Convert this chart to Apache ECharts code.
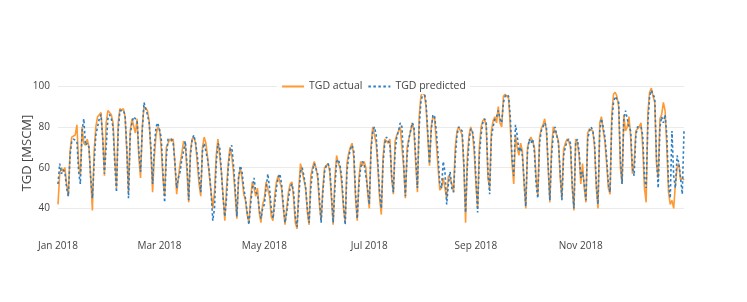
<!DOCTYPE html>
<html>
<head>
<meta charset="utf-8">
<script src="https://cdn.jsdelivr.net/npm/echarts@6/dist/echarts.min.js"></script>
<style>
html,body{margin:0;padding:0;background:#fff;}
#chart{width:747px;height:302px;}
</style>
</head>
<body>
<div id="chart"></div>
<script>
// Daily values for 2018 (Jan 1 .. Dec 31), one row per week (Mon..Sun)
const actual = [
 42,57,60,58,60,52,46,
 68,75,75,76,81,62,56,
 80,72,71,74,70,55,39,
 68,80,85,86,87,75,56,
 82,88,88,86,82,65,50,
 82,89,88,89,85,68,48,
 78,84,84,77,84,65,55,
 80,90,89,88,83,68,48,
 65,76,80,79,70,55,46,
 70,72,74,73,74,62,47,
 55,62,67,73,72,58,43,
 68,74,75,72,62,52,46,
 70,75,72,65,56,48,40,
 48,66,74,66,58,46,34,
 50,62,70,66,58,47,35,
 55,60,55,47,44,37,33,
 45,53,50,46,50,38,33,
 42,45,53,53,46,36,34,
 46,53,56,56,50,40,32,
 40,48,52,53,45,33,30,
 50,62,58,54,50,38,32,
 56,60,63,60,55,42,34,
 50,60,60,62,58,45,32,
 55,66,62,60,52,40,33,
 62,67,70,72,65,45,34,
 55,63,61,63,60,48,40,
 70,80,80,72,60,45,37,
 65,74,74,72,74,55,47,
 73,76,78,80,80,60,45,
 70,74,78,82,78,62,48,
 85,95,97,96,90,75,61,
 80,85,84,72,60,49,50,
 55,50,45,56,55,52,48,
 70,78,80,80,76,60,33,
 65,76,80,77,68,52,40,
 70,80,83,84,80,55,50,
 78,83,85,82,90,82,80,
 95,96,96,94,80,62,52,
 76,70,66,72,68,52,40,
 70,73,75,73,70,55,46,
 75,79,81,84,78,60,43,
 70,80,80,76,73,55,45,
 69,72,74,73,70,50,39,
 74,72,66,52,62,50,43,
 77,79,79,78,70,50,40,
 82,85,78,73,62,50,47,
 86,96,97,95,90,60,52,
 86,78,80,85,75,57,62,
 78,79,80,82,70,50,43,
 87,97,99,95,92,62,55,
 84,86,92,88,70,48,42,
 44,40,52,60,62,54,55,
 54
];
const predicted = [
 52,62,57,59,58,50,46,
 66,73,74,74,73,58,52,
 78,84,71,72,70,55,45,
 62,76,80,84,86,74,57,
 70,84,86,84,80,62,48,
 78,88,88,88,86,70,45,
 76,82,85,84,83,68,58,
 78,92,89,86,82,70,52,
 70,80,82,82,75,58,43,
 65,74,74,74,72,62,50,
 55,58,64,68,73,62,44,
 66,74,76,72,66,56,48,
 68,72,68,64,58,48,34,
 40,62,72,70,58,45,36,
 45,60,68,71,62,50,36,
 55,61,58,50,45,38,32,
 42,50,55,48,47,40,35,
 40,42,50,57,50,40,35,
 42,50,55,57,52,42,33,
 38,45,50,52,48,36,31,
 45,58,60,56,50,40,33,
 50,58,62,62,57,45,33,
 48,58,61,62,60,47,33,
 50,63,64,61,55,42,32,
 58,65,69,71,68,48,35,
 52,60,63,62,62,50,42,
 68,78,80,76,62,48,40,
 62,72,75,73,72,56,48,
 68,75,78,82,80,62,46,
 66,74,78,82,80,65,50,
 80,92,96,97,92,78,62,
 78,86,85,78,66,52,50,
 63,58,42,52,58,50,48,
 65,76,80,80,78,62,38,
 60,73,79,78,72,55,38,
 66,76,82,84,82,58,47,
 75,80,84,85,88,84,82,
 92,95,96,95,85,65,56,
 81,76,68,70,66,54,41,
 68,74,72,74,68,52,45,
 72,78,80,82,80,62,44,
 66,76,80,80,72,58,44,
 66,70,73,74,72,52,40,
 72,74,68,55,58,52,44,
 74,78,80,78,72,52,42,
 78,84,80,75,65,52,48,
 82,92,95,95,92,65,52,
 84,88,84,80,78,60,56,
 76,80,80,80,76,55,50,
 82,95,98,96,94,65,50,
 80,85,82,86,76,52,45,
 78,56,50,66,62,55,47,
 78
];
const yTicks = [40, 60, 80, 100];
const xTickDates = ['2018-01-01','2018-03-01','2018-05-01','2018-07-01','2018-09-01','2018-11-01'];
const monthNames = ['Jan','Feb','Mar','Apr','May','Jun','Jul','Aug','Sep','Oct','Nov','Dec'];
const yTitle = 'TGD [MSCM]';

const DAY = 86400000;
const t0 = Date.UTC(2018, 0, 1);
const dayIndex = s => Math.round((Date.parse(s + 'T00:00:00Z') - t0) / DAY);
const dayLabel = i => { const d = new Date(t0 + i * DAY); return monthNames[d.getUTCMonth()] + ' ' + d.getUTCFullYear(); };

const chart = echarts.init(document.getElementById('chart'), null, {renderer:'canvas'});
const font = '"Open Sans", sans-serif';
chart.setOption({
  animation: false,
  backgroundColor: '#fff',
  grid: {left: 58, right: 63, top: 80, bottom: 65},
  graphic: [{
    type: 'text', x: 27, y: 153, rotation: Math.PI / 2, z: 10,
    style: {text: yTitle, fontFamily: font, fontSize: 13, fill: '#444', align: 'center', verticalAlign: 'middle'}
  }],
  legend: {
    data: ['TGD actual', 'TGD predicted'],
    top: 79, left: 'center', z: 10,
    itemWidth: 22, itemHeight: 10, itemGap: 5,
    itemStyle: {opacity: 0},
    backgroundColor: '#fff', padding: [2, 4],
    textStyle: {fontFamily: font, fontSize: 10.5, color: '#444'}
  },
  xAxis: {
    type: 'value',
    min: 0, max: actual.length - 1,
    axisLine: {show: false}, axisTick: {show: false}, splitLine: {show: false},
    axisLabel: {
      customValues: xTickDates.map(dayIndex),
      formatter: v => dayLabel(v),
      fontFamily: font, fontSize: 10, color: '#444', margin: 4
    }
  },
  yAxis: {
    type: 'value', min: 26, max: 103,
    axisLine: {show: false}, axisTick: {show: false}, splitLine: {show: false},
    axisLabel: {customValues: yTicks, fontFamily: font, fontSize: 10, color: '#444', margin: 8}
  },
  series: [
    {
      name: 'grid', type: 'line', data: [], z: 1, silent: true,
      markLine: {z: 1, silent: true, symbol: 'none', label: {show: false},
        lineStyle: {color: '#ebebeb', width: 1, type: 'solid'},
        data: yTicks.map(v => ({yAxis: v}))}
    },
    {
      name: 'TGD actual', type: 'line', showSymbol: false, symbol: 'none',
      data: actual.map((v, i) => [i, v]),
      lineStyle: {color: '#ff9933', width: 1.6}, itemStyle: {color: '#ff9933'}, z: 2
    },
    {
      name: 'TGD predicted', type: 'line', showSymbol: false, symbol: 'none',
      data: predicted.map((v, i) => [i, v]),
      lineStyle: {color: '#2a7fc4', width: 1.6, type: [2.5, 2.5]}, itemStyle: {color: '#2a7fc4'}, z: 3
    }
  ]
});
</script>
</body>
</html>
